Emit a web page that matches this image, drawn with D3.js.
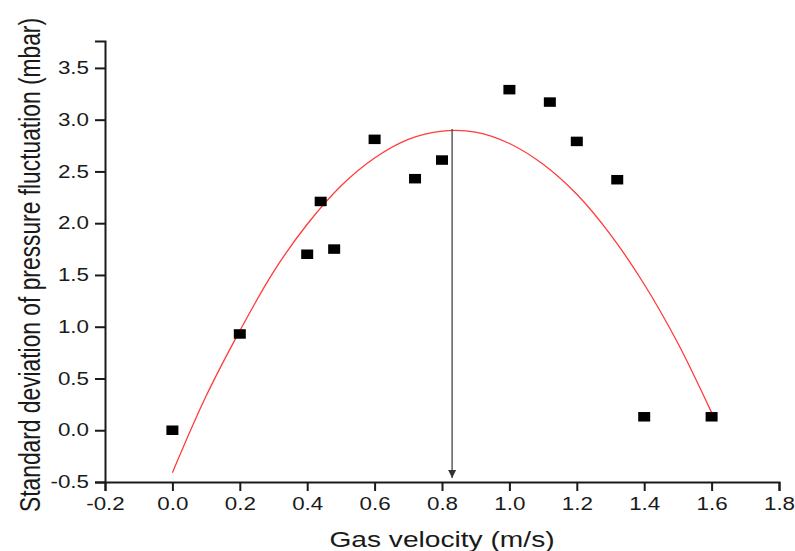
<!DOCTYPE html>
<html>
<head>
<meta charset="utf-8">
<script src="https://cdn.jsdelivr.net/npm/d3@7"></script>
<style>
  html, body { margin: 0; padding: 0; background: #fff; }
  svg { display: block; font-family: "Liberation Sans", Arial, sans-serif; }
</style>
</head>
<body>
<div id="chart"></div>
<script>
// measured points
const velocity = [0.0, 0.2, 0.4, 0.44, 0.48, 0.6, 0.72, 0.8, 1.0, 1.12, 1.2, 1.32, 1.4, 1.6];
const stdDev   = [0.0, 0.93, 1.70, 2.21, 1.75, 2.81, 2.43, 2.61, 3.29, 3.17, 2.79, 2.42, 0.13, 0.13];

// red fitted curve
const fitX = [0.0, 0.1, 0.2, 0.3, 0.4, 0.5, 0.6, 0.7, 0.8, 0.9, 1.0, 1.1, 1.2, 1.3, 1.4, 1.5, 1.6];
const fitY = [-0.41, 0.33, 0.96, 1.53, 1.99, 2.36, 2.63, 2.81, 2.89, 2.88, 2.77, 2.57, 2.28, 1.89, 1.41, 0.84, 0.17];

// arrow at the curve maximum
const peakX = 0.83;
const peakY = 2.91;

const xTicks = [-0.2, 0.0, 0.2, 0.4, 0.6, 0.8, 1.0, 1.2, 1.4, 1.6, 1.8];
const yTicks = [-0.5, 0.0, 0.5, 1.0, 1.5, 2.0, 2.5, 3.0, 3.5];

const width = 795, height = 551;
const stretch = 1.28; // the original text is drawn wide

const svg = d3.select('#chart').append('svg')
    .attr('width', width)
    .attr('height', height);

const x = d3.scaleLinear().domain([-0.2, 1.8]).range([105, 779]);
const y = d3.scaleLinear().domain([-0.5, 3.76]).range([482, 41]);

const fmt = d => d3.format('.1f')(d).replace('\u2212', '-');

// axes
const xAxis = svg.append('g')
    .attr('transform', `translate(0,${y(-0.5)})`)
    .call(d3.axisBottom(x).tickValues(xTicks).tickFormat(fmt).tickSizeOuter(0).tickSize(9).tickPadding(7));

const yAxis = svg.append('g')
    .attr('transform', `translate(${x(-0.2)},0)`)
    .call(d3.axisLeft(y).tickValues(yTicks).tickFormat(fmt).tickSizeOuter(0).tickSize(10).tickPadding(6));

[xAxis, yAxis].forEach(g => {
    g.select('.domain').attr('stroke', '#1a1a1a').attr('stroke-width', 2);
    g.selectAll('.tick line').attr('stroke', '#1a1a1a').attr('stroke-width', 2);
    g.selectAll('.tick text')
        .attr('fill', '#1a1a1a')
        .style('font-size', '17.5px')
        .style('font-family', '"Liberation Sans", Arial, sans-serif');
});

xAxis.selectAll('.tick text')
    .attr('transform', `scale(${stretch},1)`);

yAxis.selectAll('.tick text')
    .attr('x', -16 / stretch)
    .attr('transform', `scale(${stretch},1)`);

// axis titles
svg.append('text')
    .attr('transform', `translate(${(x(-0.2) + x(1.8)) / 2},547) scale(${stretch},1)`)
    .attr('text-anchor', 'middle')
    .attr('fill', '#1a1a1a')
    .style('font-size', '22px')
    .text('Gas velocity (m/s)');

svg.append('text')
    .attr('transform', `translate(40,265) scale(${stretch},1) rotate(-90)`)
    .attr('text-anchor', 'middle')
    .attr('fill', '#1a1a1a')
    .style('font-size', '22.8px')
    .text('Standard deviation of pressure fluctuation (mbar)');

// fitted curve
const fit = fitX.map((v, i) => [v, fitY[i]]);
svg.append('path')
    .datum(fit)
    .attr('fill', 'none')
    .attr('stroke', '#ff3b3b')
    .attr('stroke-width', 1.3)
    .attr('d', d3.line().x(d => x(d[0])).y(d => y(d[1])).curve(d3.curveCatmullRom));

// arrow from the maximum down to the x axis
svg.append('defs').append('marker')
    .attr('id', 'arrowhead')
    .attr('viewBox', '0 0 10 10')
    .attr('refX', 10).attr('refY', 5)
    .attr('markerWidth', 8).attr('markerHeight', 12)
    .attr('markerUnits', 'userSpaceOnUse')
    .attr('orient', 'auto')
    .append('path')
    .attr('d', 'M0,0 L10,5 L0,10 Z')
    .attr('fill', '#333');

svg.append('line')
    .attr('x1', x(peakX)).attr('y1', y(peakY))
    .attr('x2', x(peakX)).attr('y2', y(-0.5) - 4)
    .attr('stroke', '#444')
    .attr('stroke-width', 1.3)
    .attr('marker-end', 'url(#arrowhead)');

// data squares
const pts = velocity.map((v, i) => ({ v: v, s: stdDev[i] }));
const mw = 12, mh = 9.5;
svg.append('g')
    .selectAll('rect')
    .data(pts)
    .enter().append('rect')
    .attr('x', d => x(d.v) - mw / 2)
    .attr('y', d => y(d.s) - mh / 2)
    .attr('width', mw)
    .attr('height', mh)
    .attr('fill', '#000');
</script>
</body>
</html>
